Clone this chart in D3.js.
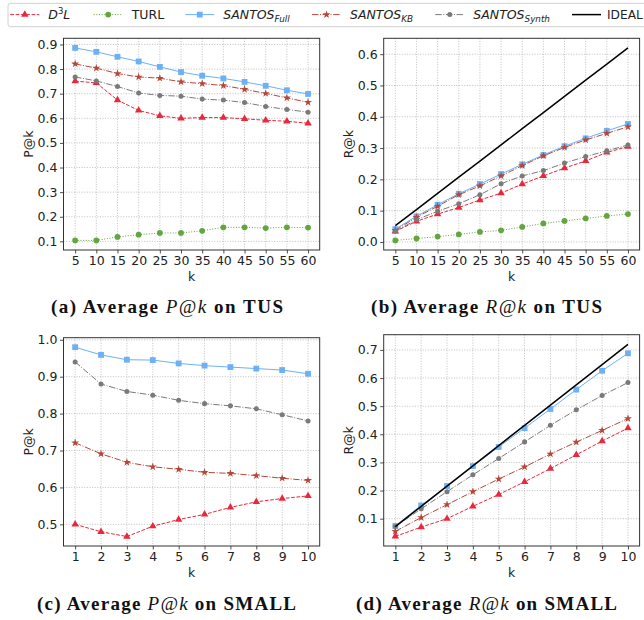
<!DOCTYPE html>
<html><head><meta charset="utf-8">
<script src="https://cdn.jsdelivr.net/npm/d3@7"></script>
<style>
body{margin:0;background:#fff;}
svg{display:block;}
</style></head>
<body><svg id="chart" width="644" height="620"></svg>
<script>
// ---------- DATA ----------
const kTUS = [5,10,15,20,25,30,35,40,45,50,55,60];
const kSMALL = [1,2,3,4,5,6,7,8,9,10];

// (a) P@k on TUS
const tusP_D3L   = [0.751,0.744,0.674,0.632,0.610,0.600,0.603,0.603,0.598,0.592,0.588,0.580];
const tusP_TURL  = [0.104,0.104,0.118,0.127,0.134,0.134,0.143,0.157,0.157,0.154,0.157,0.156];
const tusP_Full  = [0.886,0.870,0.850,0.831,0.809,0.788,0.773,0.762,0.748,0.732,0.714,0.699];
const tusP_KB    = [0.821,0.804,0.782,0.768,0.763,0.748,0.741,0.733,0.718,0.701,0.683,0.665];
const tusP_Synth = [0.768,0.752,0.729,0.703,0.693,0.690,0.678,0.674,0.664,0.648,0.636,0.625];

// (b) R@k on TUS
const tusR_D3L   = [0.034,0.066,0.089,0.110,0.134,0.156,0.185,0.211,0.236,0.259,0.286,0.305];
const tusR_TURL  = [0.005,0.011,0.017,0.024,0.032,0.037,0.048,0.059,0.067,0.075,0.083,0.089];
const tusR_Full  = [0.041,0.082,0.119,0.154,0.185,0.217,0.248,0.278,0.306,0.331,0.355,0.377];
const tusR_KB    = [0.037,0.079,0.114,0.151,0.179,0.211,0.244,0.275,0.302,0.326,0.347,0.368];
const tusR_Synth = [0.034,0.071,0.098,0.122,0.151,0.186,0.211,0.228,0.252,0.273,0.291,0.310];
const tusR_IDEAL = [0.052,0.103,0.155,0.207,0.258,0.310,0.362,0.413,0.465,0.517,0.568,0.620];

// (c) P@k on SMALL
const smallP_D3L   = [0.500,0.480,0.467,0.495,0.513,0.527,0.546,0.561,0.570,0.577];
const smallP_Full  = [0.980,0.959,0.946,0.945,0.936,0.930,0.926,0.922,0.918,0.908];
const smallP_KB    = [0.721,0.691,0.668,0.656,0.649,0.641,0.638,0.632,0.625,0.619];
const smallP_Synth = [0.940,0.880,0.860,0.850,0.836,0.827,0.821,0.813,0.797,0.780];

// (d) R@k on SMALL
const smallR_D3L   = [0.037,0.070,0.100,0.144,0.186,0.231,0.278,0.327,0.376,0.422];
const smallR_Full  = [0.074,0.147,0.216,0.287,0.355,0.422,0.490,0.559,0.626,0.688];
const smallR_KB    = [0.055,0.104,0.150,0.196,0.241,0.284,0.330,0.372,0.414,0.456];
const smallR_Synth = [0.072,0.135,0.196,0.256,0.314,0.373,0.432,0.487,0.538,0.584];
const smallR_IDEAL = [0.072,0.144,0.216,0.288,0.360,0.432,0.504,0.576,0.648,0.720];

const yTicksA = [0.1,0.2,0.3,0.4,0.5,0.6,0.7,0.8,0.9];
const yTicksB = [0.0,0.1,0.2,0.3,0.4,0.5,0.6];
const yTicksC = [0.5,0.6,0.7,0.8,0.9,1.0];
const yTicksD = [0.1,0.2,0.3,0.4,0.5,0.6,0.7];

const captions = [
  ["(a) Average ", "P@k", " on TUS"],
  ["(b) Average ", "R@k", " on TUS"],
  ["(c) Average ", "P@k", " on SMALL"],
  ["(d) Average ", "R@k", " on SMALL"]
];

// ---------- STYLES ----------
const STY = {
  D3L:   {color:"#e8283c", dash:"3.7,1.6",          sym:d3.symbolTriangle, size:24},
  TURL:  {color:"#63a53f", dash:"1,1.65",           sym:d3.symbolCircle,   size:26},
  Full:  {color:"#6cb1f6", dash:null,               sym:d3.symbolSquare,   size:34},
  KB:    {color:"#b5473a", dash:"6.4,1.6,1,1.6",    sym:d3.symbolStar,     size:20},
  Synth: {color:"#7a7a7a", dash:"6.4,1.6,1,1.6",    sym:d3.symbolCircle,   size:20},
  IDEAL: {color:"#000000", dash:null,               sym:null,              size:0}
};

const svg = d3.select("#chart");
const FONT = "DejaVu Sans, sans-serif";

function panel(box, ks, series, yTicks, yLabel) {
  const g = svg.append("g");
  const kpad = (d3.max(ks) - d3.min(ks)) * 0.05;
  const x = d3.scaleLinear().domain([d3.min(ks) - kpad, d3.max(ks) + kpad]).range([box.l, box.r]);
  const all = series.flatMap(s => s.v);
  const lo = d3.min(all), hi = d3.max(all), yp = (hi - lo) * 0.05;
  const y = d3.scaleLinear().domain([lo - yp, hi + yp]).range([box.b, box.t]);

  // grid
  g.append("g").selectAll("line").data(ks).join("line")
    .attr("x1", d => x(d)).attr("x2", d => x(d)).attr("y1", box.t).attr("y2", box.b)
    .attr("stroke", "#b0b0b0").attr("stroke-width", 0.8).attr("stroke-dasharray", "1,1.6");
  g.append("g").selectAll("line").data(yTicks).join("line")
    .attr("y1", d => y(d)).attr("y2", d => y(d)).attr("x1", box.l).attr("x2", box.r)
    .attr("stroke", "#b0b0b0").attr("stroke-width", 0.8).attr("stroke-dasharray", "1,1.6");

  // series
  series.forEach(s => {
    const st = STY[s.n];
    const line = d3.line().x((d, i) => x(ks[i])).y(d => y(d));
    g.append("path").datum(s.v).attr("d", line).attr("fill", "none")
      .attr("stroke", st.color).attr("stroke-width", s.n === "IDEAL" ? 1.5 : 1)
      .attr("stroke-dasharray", st.dash);
    if (st.sym) {
      g.append("g").selectAll("path").data(s.v).join("path")
        .attr("d", d3.symbol().type(st.sym).size(st.size))
        .attr("transform", (d, i) => `translate(${x(ks[i])},${y(d)})`)
        .attr("fill", st.color);
    }
  });

  // axes
  const xa = g.append("g").attr("transform", `translate(0,${box.b})`)
    .call(d3.axisBottom(x).tickValues(ks).tickSize(3.5).tickPadding(3).tickFormat(d3.format("d")));
  const ya = g.append("g").attr("transform", `translate(${box.l},0)`)
    .call(d3.axisLeft(y).tickValues(yTicks).tickSize(3.5).tickPadding(2.5).tickFormat(d3.format(".1f")));
  [xa, ya].forEach(a => {
    a.select(".domain").remove();
    a.selectAll("text").attr("font-family", FONT).attr("font-size", 12.5).attr("fill", "#222");
    a.selectAll("line").attr("stroke", "#222").attr("stroke-width", 0.8);
  });
  g.append("rect").attr("x", box.l).attr("y", box.t).attr("width", box.r - box.l).attr("height", box.b - box.t)
    .attr("fill", "none").attr("stroke", "#333").attr("stroke-width", 1);

  g.append("text").attr("x", (box.l + box.r) / 2).attr("y", box.b + 31)
    .attr("text-anchor", "middle").attr("font-family", FONT).attr("font-size", 12.5).attr("fill", "#222").text("k");
  g.append("text").attr("transform", `translate(${box.l - 31},${(box.t + box.b) / 2}) rotate(-90)`)
    .attr("text-anchor", "middle").attr("font-family", FONT).attr("font-size", 12.5).attr("fill", "#222").text(yLabel);
}

panel({l:63.5, r:319.7, t:38.3, b:250}, kTUS, [
  {n:"D3L", v:tusP_D3L}, {n:"TURL", v:tusP_TURL}, {n:"Full", v:tusP_Full},
  {n:"KB", v:tusP_KB}, {n:"Synth", v:tusP_Synth}], yTicksA, "P@k");
panel({l:383.7, r:639.6, t:38.3, b:250}, kTUS, [
  {n:"D3L", v:tusR_D3L}, {n:"TURL", v:tusR_TURL}, {n:"Full", v:tusR_Full},
  {n:"KB", v:tusR_KB}, {n:"Synth", v:tusR_Synth}, {n:"IDEAL", v:tusR_IDEAL}], yTicksB, "R@k");
panel({l:63.5, r:319.7, t:337.7, b:546}, kSMALL, [
  {n:"D3L", v:smallP_D3L}, {n:"Full", v:smallP_Full},
  {n:"KB", v:smallP_KB}, {n:"Synth", v:smallP_Synth}], yTicksC, "P@k");
panel({l:383.7, r:639.6, t:334.7, b:546}, kSMALL, [
  {n:"D3L", v:smallR_D3L}, {n:"Full", v:smallR_Full},
  {n:"KB", v:smallR_KB}, {n:"Synth", v:smallR_Synth}, {n:"IDEAL", v:smallR_IDEAL}], yTicksD, "R@k");

// ---------- LEGEND ----------
const lg = svg.append("g");
lg.append("rect").attr("x", 8).attr("y", 3.3).attr("width", 660).attr("height", 23.4).attr("rx", 2.5)
  .attr("fill", "#fff").attr("stroke", "#d0d0d0").attr("stroke-width", 1);
const legendItems = [
  {n:"D3L",   tx:48.3},
  {n:"TURL",  tx:131.7},
  {n:"Full",  tx:223.3},
  {n:"KB",    tx:350},
  {n:"Synth", tx:473.3},
  {n:"IDEAL", tx:607}
];
const LY = 14.6;
legendItems.forEach(it => {
  const st = STY[it.n];
  const hx = it.n === "IDEAL" ? 610 : it.tx;
  const x0 = hx - 38, x1 = hx - 9;
  lg.append("line").attr("x1", x0).attr("x2", x1).attr("y1", LY).attr("y2", LY)
    .attr("stroke", st.color).attr("stroke-width", it.n === "IDEAL" ? 1.5 : 1).attr("stroke-dasharray", st.dash);
  if (st.sym) lg.append("path").attr("d", d3.symbol().type(st.sym).size(st.size))
    .attr("transform", `translate(${(x0 + x1) / 2},${LY})`).attr("fill", st.color);
  const t = lg.append("text").attr("x", it.tx).attr("y", LY + 4.5)
    .attr("font-family", FONT).attr("font-size", it.n === "IDEAL" ? 12.2 : 12.5).attr("fill", "#222");
  if (it.n === "D3L") {
    t.append("tspan").attr("font-style", "italic").text("D");
    t.append("tspan").attr("font-size", 8.5).attr("dy", -5).text("3");
    t.append("tspan").attr("font-style", "italic").attr("dy", 5).text("L");
  } else if (it.n === "TURL" || it.n === "IDEAL") {
    t.text(it.n);
  } else {
    t.append("tspan").attr("font-style", "italic").text("SANTOS");
    t.append("tspan").attr("font-style", "italic").attr("font-size", 8.8).attr("dy", 3).text(it.n);
  }
});

// ---------- CAPTIONS ----------
const capPos = [[167, 313, 232], [486.5, 313, 231], [166.5, 610, 259], [486.5, 610, 261]];
captions.forEach((c, i) => {
  const t = svg.append("text").attr("x", capPos[i][0]).attr("y", capPos[i][1])
    .attr("text-anchor", "middle").attr("font-family", "Liberation Serif, serif")
    .attr("font-size", 19).attr("fill", "#111")
    .attr("textLength", capPos[i][2]).attr("lengthAdjust", "spacing");
  t.append("tspan").attr("font-weight", "bold").text(c[0]);
  t.append("tspan").attr("font-style", "italic").text(c[1]);
  t.append("tspan").attr("font-weight", "bold").text(c[2]);
});
</script>
</body></html>
